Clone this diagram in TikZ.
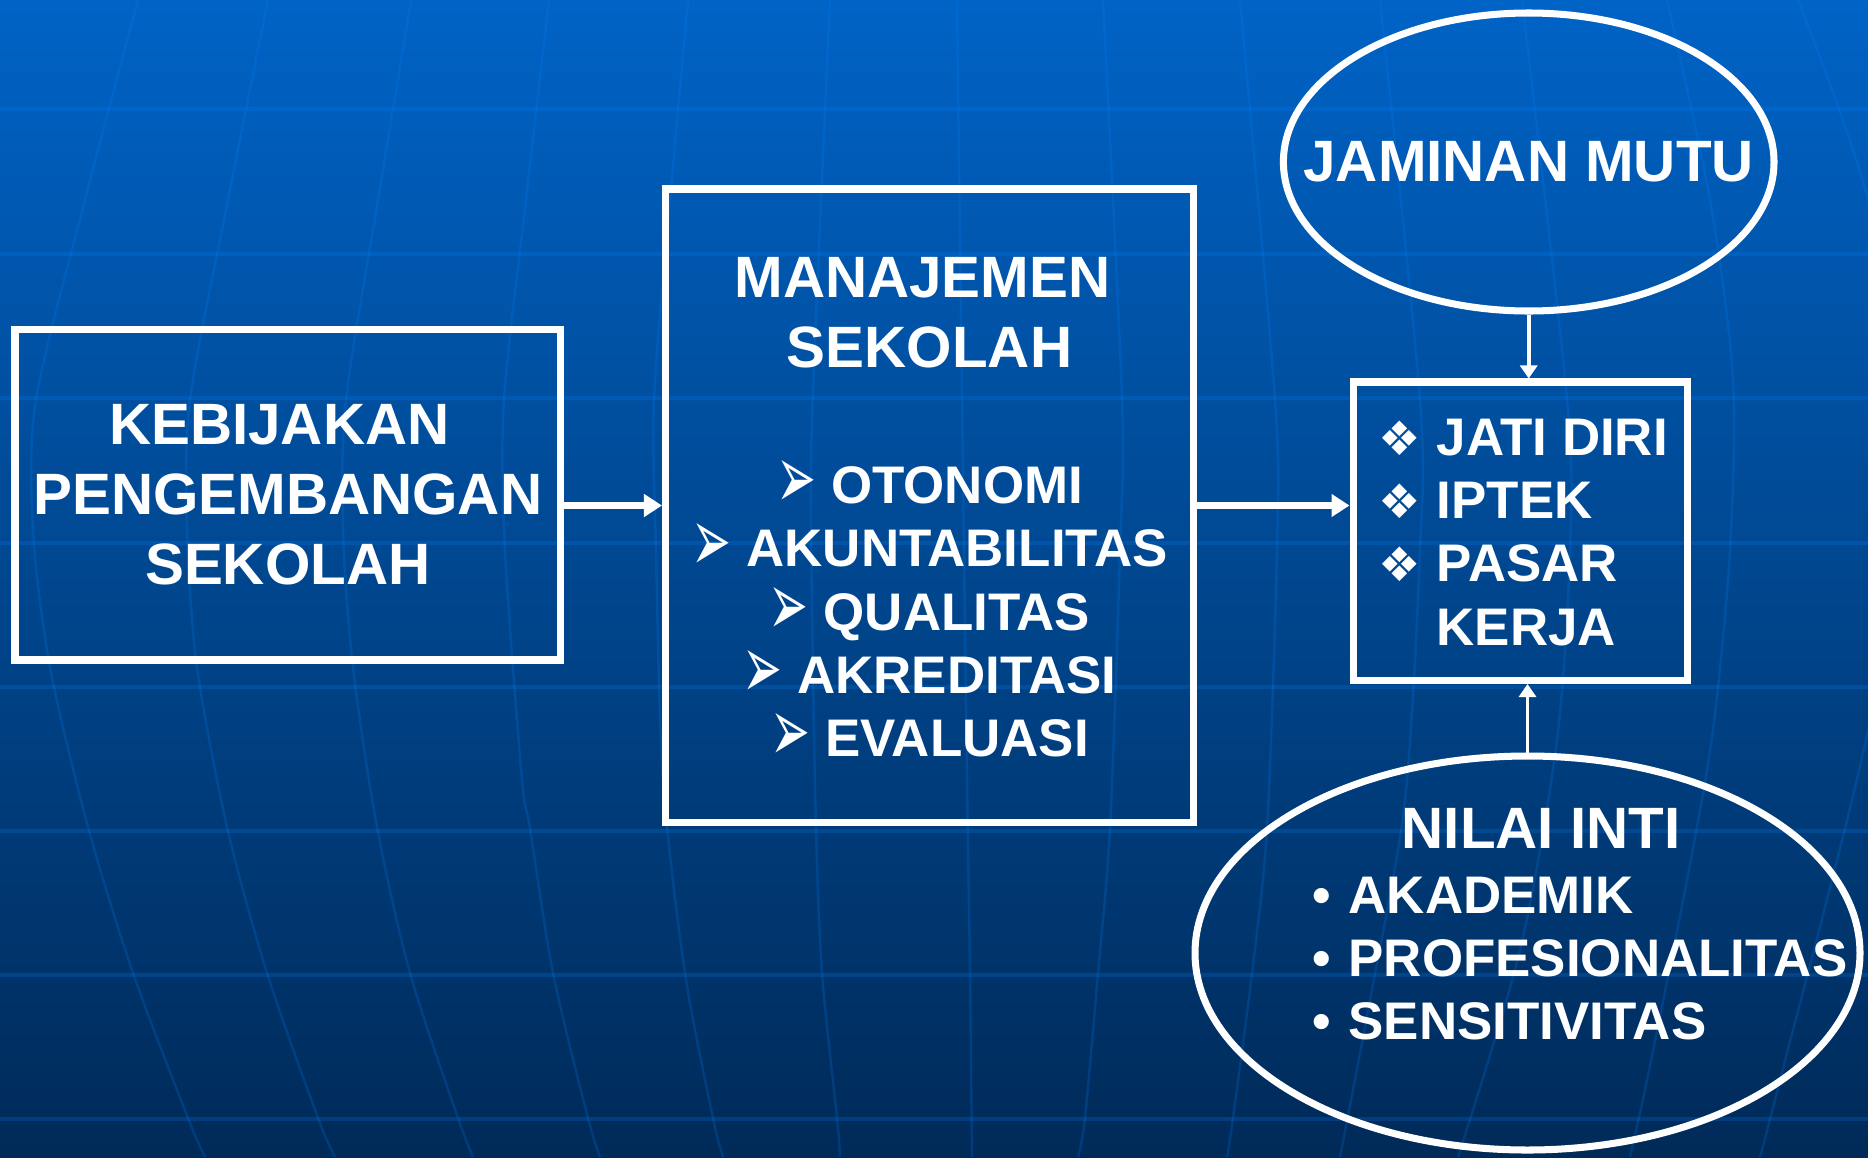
\documentclass[tikz,border=0pt]{standalone}
\usepackage{fontspec}
\usepackage{graphicx}
\setmainfont{Liberation Sans}
\newfontfamily\dingfont{DejaVu Sans}
\usetikzlibrary{shapes.geometric,arrows.meta}

\definecolor{latasatas}{RGB}{0,99,198}
\definecolor{latasbawah}{RGB}{0,42,88}
\definecolor{garisbiru}{RGB}{0,130,255}

\newcommand{\panahbullet}{\raisebox{-0.05cm}[0pt][0pt]{\resizebox*{0.40cm}{0.48cm}{\dingfont\raisebox{\depth}{➢}}}\hspace{0.15cm}}
\newcommand{\ketupat}{\makebox[0.58cm][l]{\smash{\dingfont\fontsize{13.5}{13.5}\selectfont ❖}}}
\newcommand{\titik}{\makebox[0.36cm][l]{•}}

\tikzset{
	kotak/.style={draw=white, line width=2pt, rectangle, inner sep=0pt},
	bulat/.style={draw=white, line width=2pt, ellipse, inner sep=0pt},
	judul/.style={text=white, font=\bfseries\fontsize{16.6}{20}\selectfont, align=center, inner sep=0pt},
	isi/.style={text=white, font=\bfseries\fontsize{15.05}{18}\selectfont, inner sep=0pt},
	panah/.style={white, line width=1.9pt, -{Triangle[length=0.18cm,width=0.22cm]}},
	panahkecil/.style={white, line width=1.1pt, -{Triangle[length=0.13cm,width=0.17cm]}},
	garis/.style={draw=garisbiru, draw opacity=0.22, line width=0.9pt},
	meridian/.style={draw=garisbiru, draw opacity=0.2, line width=0.7pt}
}

\begin{document}
\begin{tikzpicture}[x=1cm,y=-1cm]
	\useasboundingbox (0,0) rectangle (18.68,11.57);
	\shade[top color=latasatas, bottom color=latasbawah] (0,0) rectangle (18.68,11.57);
	% grid latar
	\begin{scope}
		\clip (0,0) rectangle (18.68,11.57);
		\foreach \y in {1.09,2.54,3.98,5.43,6.87,8.31,9.75,11.19}
			\draw[garis] (0,\y)--(18.68,\y);
		\draw[meridian] plot[smooth] coordinates {(1.38,0) (0.85,2) (0.36,4) (0.33,5.3) (0.5,6.67) (0.88,8.27) (1.33,9.73) (1.88,11.18) (2.05,11.57)};
		\draw[meridian] plot[smooth] coordinates {(2.68,0) (2.28,2) (1.90,4) (1.87,5.3) (1.97,6.67) (2.27,8.27) (2.67,9.73) (3.18,11.18) (3.35,11.57)};
		\draw[meridian] plot[smooth] coordinates {(4.11,0) (3.78,2) (3.46,4) (3.43,5.3) (3.53,6.67) (3.77,8.27) (4.10,9.73) (4.58,11.18) (4.73,11.57)};
		\draw[meridian] plot[smooth] coordinates {(5.49,0) (5.26,2) (5.04,4) (5.05,5.5) (5.22,7.8) (5.30,8.28) (5.53,9.73) (5.88,11.18) (6.00,11.57)};
		\draw[meridian] plot[smooth] coordinates {(6.88,0) (6.70,2) (6.54,4) (6.56,5.5) (6.63,7.8) (6.85,9.73) (7.13,11.18) (7.23,11.57)};
		\draw[meridian] plot[smooth] coordinates {(8.30,0) (8.12,4.2) (8.12,6) (8.16,8.28) (8.22,9.73) (8.37,11.18) (8.40,11.57)};
		\draw[meridian] plot[smooth] coordinates {(9.57,0) (9.62,4) (9.67,7.8) (9.70,9.73) (9.72,11.57)};
		\draw[meridian] plot[smooth] coordinates {(11.03,0) (11.22,4) (11.2,5.5) (11.10,8.28) (10.98,9.73) (10.85,11.18) (10.78,11.57)};
		\draw[meridian] plot[smooth] coordinates {(12.40,0) (12.75,4) (12.77,5.5) (12.67,8.28) (12.52,9.73) (12.33,11.18) (12.27,11.57)};
		\draw[meridian] plot[smooth] coordinates {(13.8,0) (14.2,4) (14.2,5.5) (14.05,8) (13.7,10) (13.4,11.57)};
		\draw[meridian] plot[smooth] coordinates {(15.22,0) (15.67,4) (15.7,5.5) (15.57,7.4) (15.2,9.5) (14.58,11.57)};
		\draw[meridian] plot[smooth] coordinates {(16.67,0) (17.1,2) (17.33,3.8) (17.3,5.5) (17.13,7.3) (16.87,8.8) (16.47,10.8) (16.3,11.57)};
		\draw[meridian] plot[smooth] coordinates {(17.98,0) (18.68,2) (19.1,4.5) (18.68,7.3) (17.8,10.8) (17.6,11.57)};
	\end{scope}

	% kotak dan elips
	\node[kotak, judul, minimum width=5.455cm, minimum height=3.305cm] (kebijakan) at (2.8775,4.9475) {KEBIJAKAN\hspace*{0.17cm}\\PENGEMBANGAN\hspace*{0.17cm}\\SEKOLAH};
	\node[kotak, minimum width=5.28cm, minimum height=6.33cm] (manajemen) at (9.295,5.055) {};
	\node[judul] (manajemenjudul) at (9.295,3.128) {MANAJEMEN\hspace*{0.14cm}\\SEKOLAH};
	\node[isi, align=center] (manajemenisi) at (9.295,6.118) {\panahbullet OTONOMI\\\panahbullet AKUNTABILITAS\\\panahbullet QUALITAS\\\panahbullet AKREDITASI\\\panahbullet EVALUASI};
	\node[kotak, minimum width=3.34cm, minimum height=2.985cm] (tujuan) at (15.20,5.3125) {};
	\node[isi, align=left, anchor=west] (tujuanisi) at (13.78,5.322) {\ketupat JATI DIRI\\\ketupat IPTEK\\\ketupat PASAR\\\hspace*{0.58cm}KERJA};
	\node[bulat, minimum width=4.906cm, minimum height=2.98cm] (jaminan) at (15.287,1.62) {};
	\node[judul] (jaminanjudul) at (jaminan) {JAMINAN MUTU};
	\node[bulat, minimum width=6.65cm, minimum height=3.94cm] (nilai) at (15.275,9.53) {};
	\node[judul] (nilaijudul) at (15.41,8.28) {NILAI INTI};
	\node[isi, align=left, anchor=west] (nilaiisi) at (13.12,9.585) {\titik AKADEMIK\\\titik PROFESIONALITAS\\\titik SENSITIVITAS};

	% panah
	\draw[panah] (kebijakan.east |- manajemen.west) -- (manajemen.west);
	\draw[panah] (manajemen.east) -- (manajemen.east -| tujuan.west);
	\draw[panahkecil] (jaminan.south) -- (jaminan.south |- tujuan.north);
	\draw[panahkecil] (nilai.north) -- (nilai.north |- tujuan.south);
\end{tikzpicture}
\end{document}
